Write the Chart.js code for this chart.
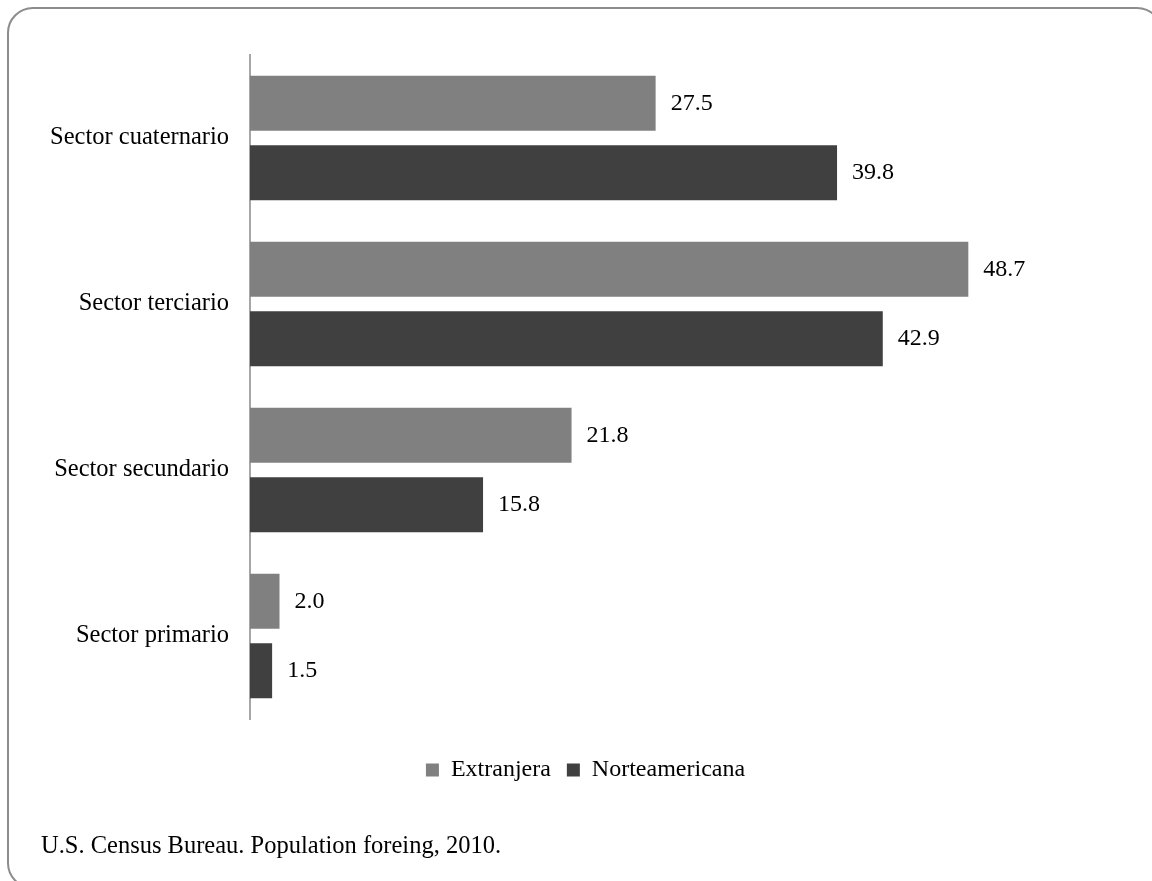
<!DOCTYPE html>
<html lang="es">
<head>
<meta charset="utf-8">
<title>Sectores</title>
<script src="https://cdn.jsdelivr.net/npm/chart.js@4.4.1/dist/chart.umd.min.js"></script>
<style>
  html, body { margin: 0; padding: 0; background: #fff; overflow: hidden; }
  #marco {
    position: absolute; left: 7px; top: 7px; width: 1156px; height: 882px;
    box-sizing: border-box; border: 2px solid #8c8c8c; border-radius: 26px;
  }
  #caja { position: absolute; left: 0; top: 0; width: 1152px; height: 881px; }
  #fuente {
    position: absolute; left: 41px; top: 833px; margin: 0;
    font: 24.5px/24px "Liberation Serif", "Times New Roman", serif; color: #000;
  }
</style>
</head>
<body>
<div id="marco"></div>
<div id="caja"><canvas id="sectores"></canvas></div>
<p id="fuente">U.S. Census Bureau. Population foreing, 2010.</p>

<script>
// datos
const sectores = ['Sector cuaternario', 'Sector terciario', 'Sector secundario', 'Sector primario'];
const extranjera = [27.5, 48.7, 21.8, 2.0];
const norteamericana = [39.8, 42.9, 15.8, 1.5];

const fuenteSerif = '"Liberation Serif", "Times New Roman", serif';

// etiquetas de valor a la derecha de cada barra
const etiquetasValor = {
  id: 'etiquetasValor',
  afterDatasetsDraw(chart) {
    const ctx = chart.ctx;
    ctx.save();
    ctx.font = '24px ' + fuenteSerif;
    ctx.fillStyle = '#000';
    ctx.textAlign = 'left';
    ctx.textBaseline = 'middle';
    chart.data.datasets.forEach((ds, i) => {
      chart.getDatasetMeta(i).data.forEach((bar, j) => {
        ctx.fillText(ds.data[j].toFixed(1), bar.x + 15, bar.y);
      });
    });
    ctx.restore();
  }
};

const grafico = document.querySelector('#sectores');

new Chart(grafico, {
  type: 'bar',
  data: {
    labels: sectores,
    datasets: [
      {
        label: 'Extranjera',
        data: extranjera,
        backgroundColor: '#808080',
        borderWidth: 0,
        categoryPercentage: 0.835,
        barPercentage: 0.794
      },
      {
        label: 'Norteamericana',
        data: norteamericana,
        backgroundColor: '#404040',
        borderWidth: 0,
        categoryPercentage: 0.835,
        barPercentage: 0.794
      }
    ]
  },
  options: {
    indexAxis: 'y',
    responsive: true,
    maintainAspectRatio: false,
    animation: false,
    layout: {
      padding: { left: 36, right: 17, top: 55, bottom: 89 }
    },
    scales: {
      x: {
        min: 0,
        max: 60,
        grid: { display: false, drawTicks: false },
        border: { display: false },
        ticks: { display: false },
        afterFit: (scale) => { scale.height = 23; }  // hueco entre barras y leyenda
      },
      y: {
        grid: { display: false, drawTicks: false },
        border: { display: true, color: '#a6a6a6', width: 2 },
        ticks: {
          color: '#000',
          padding: 21,
          font: { family: fuenteSerif, size: 24.5 }
        },
        afterFit: (scale) => { scale.width = 214; }
      }
    },
    plugins: {
      legend: {
        display: true,
        position: 'bottom',
        labels: {
          color: '#000',
          boxWidth: 13,
          boxHeight: 13,
          padding: 16,
          font: { family: fuenteSerif, size: 24 }
        }
      },
      tooltip: { enabled: false }
    }
  },
  plugins: [etiquetasValor]
});
</script>
</body>
</html>
